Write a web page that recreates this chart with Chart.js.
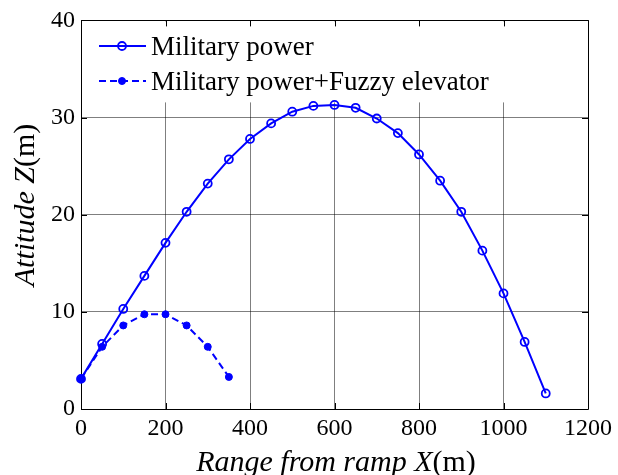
<!DOCTYPE html>
<html>
<head>
<meta charset="utf-8">
<title>Attitude vs range from ramp</title>
<script src="https://cdn.jsdelivr.net/npm/chart.js@4"></script>
<style>
    html, body { margin: 0; padding: 0; background: #fff; }
</style>
</head>
<body>
<canvas id="attitude" width="618" height="475"></canvas>
<script>
// range from ramp (m) and attitude (m) for both runs
const rangeX = [0, 50, 100, 150, 200, 250, 300, 350, 400, 450, 500, 550,
    600, 650, 700, 750, 800, 850, 900, 950, 1000, 1050, 1100]
const militaryPower = [3.1, 6.7, 10.3, 13.7, 17.1, 20.3, 23.2, 25.7, 27.8, 29.4, 30.6, 31.2,
    31.3, 31.0, 29.9, 28.4, 26.2, 23.5, 20.3, 16.3, 11.9, 6.9, 1.6]
const fuzzyRangeX = [0, 50, 100, 150, 200, 250, 300, 350]
const fuzzyElevator = [3.1, 6.4, 8.6, 9.75, 9.75, 8.6, 6.4, 3.3]

const xTicks = [0, 200, 400, 600, 800, 1000, 1200]
const zTicks = [0, 10, 20, 30, 40]
const seriesNames = ['Military power', 'Military power+Fuzzy elevator']

const serif = 'Liberation Serif'
const blue = '#0000ff'

Chart.defaults.font.family = serif

function toPoints(xs, ys) {
    return xs.map((x, i) => ({ x: x, y: ys[i] }))
}

function px(v) {
    return Math.round(v) + 0.5
}

// draws a run of text pieces, some italic, centred on (cx, cy)
function drawMixed(ctx, parts, cx, cy, size) {
    let total = 0
    parts.forEach((p) => {
        ctx.font = (p.italic ? 'italic ' : '') + size + 'px "' + serif + '"'
        p.w = ctx.measureText(p.text).width
        total += p.w
    })
    let x = cx - total / 2
    ctx.textAlign = 'left'
    ctx.textBaseline = 'alphabetic'
    parts.forEach((p) => {
        ctx.font = (p.italic ? 'italic ' : '') + size + 'px "' + serif + '"'
        ctx.fillText(p.text, x, cy)
        x += p.w
    })
}

function drawMarker(ctx, ds, x, y) {
    ctx.beginPath()
    ctx.setLineDash([])
    ctx.arc(x, y, ds.pointRadius, 0, Math.PI * 2)
    if (ds.pointBackgroundColor !== 'rgba(0,0,0,0)') {
        ctx.fillStyle = ds.pointBackgroundColor
        ctx.fill()
    }
    ctx.lineWidth = ds.pointBorderWidth
    ctx.strokeStyle = ds.pointBorderColor
    ctx.stroke()
}

// box, inward ticks and the legend, under the data lines
const framePlugin = {
    id: 'frame',
    beforeDatasetsDraw(chart) {
        const ctx = chart.ctx
        const a = chart.chartArea
        const xs = chart.scales.x
        const ys = chart.scales.y
        ctx.save()

        ctx.fillStyle = '#fff'
        ctx.fillRect(a.left + 1, a.top + 1, a.right - a.left - 2, 81)

        ctx.strokeStyle = '#000'
        ctx.lineWidth = 1
        ctx.beginPath()
        xTicks.forEach((v) => {
            const x = px(xs.getPixelForValue(v))
            ctx.moveTo(x, a.bottom)
            ctx.lineTo(x, a.bottom - 6)
            ctx.moveTo(x, a.top)
            ctx.lineTo(x, a.top + 6)
        })
        zTicks.forEach((v) => {
            const y = px(ys.getPixelForValue(v))
            ctx.moveTo(a.left, y)
            ctx.lineTo(a.left + 6, y)
            ctx.moveTo(a.right, y)
            ctx.lineTo(a.right - 6, y)
        })
        ctx.stroke()

        ctx.beginPath()
        ctx.rect(px(a.left), px(a.top), Math.round(a.right - a.left), Math.round(a.bottom - a.top))
        ctx.stroke()

        const rows = [46, 81]
        chart.data.datasets.forEach((ds, i) => {
            const y = rows[i]
            ctx.beginPath()
            ctx.setLineDash(ds.borderDash || [])
            ctx.strokeStyle = ds.borderColor
            ctx.lineWidth = ds.borderWidth
            ctx.moveTo(99, y)
            ctx.lineTo(146, y)
            ctx.stroke()
            drawMarker(ctx, ds, 122, y)
            ctx.fillStyle = '#000'
            ctx.font = '27px "' + serif + '"'
            ctx.textAlign = 'left'
            ctx.textBaseline = 'alphabetic'
            ctx.fillText(ds.label, 151, y + 9)
        })
        ctx.restore()
    },
    afterDraw(chart) {
        const ctx = chart.ctx
        ctx.save()
        ctx.fillStyle = '#000'
        drawMixed(ctx, [
            { text: 'Range from ramp X', italic: true },
            { text: '(m)', italic: false },
        ], 336, 471, 30)
        ctx.translate(34, 205)
        ctx.rotate(-Math.PI / 2)
        drawMixed(ctx, [
            { text: 'Attitude Z', italic: true },
            { text: '(m)', italic: false },
        ], 0, 0, 30)
        ctx.restore()
    },
}

const tickFont = { family: serif, size: 24 }

new Chart('attitude', {
    type: 'line',
    data: {
        datasets: [
            {
                label: seriesNames[0],
                data: toPoints(rangeX, militaryPower),
                borderColor: blue,
                borderWidth: 2,
                pointStyle: 'circle',
                pointRadius: 4,
                pointBorderWidth: 1.8,
                pointBorderColor: blue,
                pointBackgroundColor: 'rgba(0,0,0,0)',
                tension: 0,
                fill: false,
                clip: false,
                order: 1,
            },
            {
                label: seriesNames[1],
                data: toPoints(fuzzyRangeX, fuzzyElevator),
                borderColor: blue,
                borderWidth: 2,
                borderDash: [7, 4],
                pointStyle: 'circle',
                pointRadius: 3.5,
                pointBorderWidth: 1,
                pointBorderColor: blue,
                pointBackgroundColor: blue,
                tension: 0,
                fill: false,
                clip: false,
                order: 0,
            },
        ],
    },
    options: {
        responsive: false,
        animation: false,
        layout: {
            padding: { top: 17, right: 30, left: 0, bottom: 0 },
        },
        plugins: {
            legend: { display: false },
            tooltip: { enabled: false },
        },
        scales: {
            x: {
                type: 'linear',
                min: 0,
                max: 1200,
                afterBuildTicks: (scale) => {
                    scale.ticks = xTicks.map((v) => ({ value: v }))
                },
                afterFit: (scale) => {
                    scale.height = 66
                },
                ticks: {
                    color: '#000',
                    font: tickFont,
                    padding: 5,
                    maxRotation: 0,
                    autoSkip: false,
                    callback: (v) => String(v),
                },
                grid: { color: 'rgba(0,0,0,0.5)', lineWidth: 1, drawTicks: false },
                border: { display: false },
            },
            y: {
                type: 'linear',
                min: 0,
                max: 40,
                afterBuildTicks: (scale) => {
                    scale.ticks = zTicks.map((v) => ({ value: v }))
                },
                afterFit: (scale) => {
                    scale.width = 81
                },
                ticks: {
                    color: '#000',
                    font: tickFont,
                    padding: 6,
                    autoSkip: false,
                    callback: (v) => String(v),
                },
                grid: { color: 'rgba(0,0,0,0.5)', lineWidth: 1, drawTicks: false },
                border: { display: false },
            },
        },
    },
    plugins: [framePlugin],
})
</script>
</body>
</html>
